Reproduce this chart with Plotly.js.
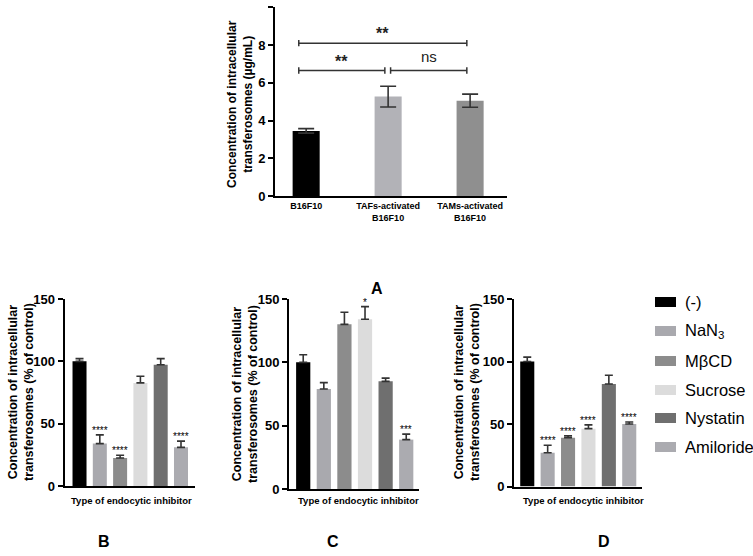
<!DOCTYPE html>
<html><head><meta charset="utf-8">
<script src="https://cdn.plot.ly/plotly-3.0.1.min.js"></script>
<style>html,body{margin:0;padding:0;background:#fff}</style>
</head><body><div id="chart" style="width:753px;height:556px"></div>
<script>
// ---- Panel A data ----
const cellLines = ['B16F10', 'TAFs-activated<br>B16F10', 'TAMs-activated<br>B16F10'];
const cellMeans = [3.45, 5.27, 5.05];
const cellErr = [0.12, 0.55, 0.35];
const cellColors = ['#000000', '#b2b2b7', '#8f8f8f'];
const comparisons = [
  {a: 0, b: 2, y: 8.1, label: '**'},
  {a: 0, b: 1, y: 6.65, label: '**'},
  {a: 1, b: 2, y: 6.65, label: 'ns'}
];
// ---- Panels B, C, D data ----
const inhibitors = ['(-)', 'NaN3', 'MβCD', 'Sucrose', 'Nystatin', 'Amiloride'];
const inhibitorLabels = ['(-)', 'NaN<sub>3</sub>', 'MβCD', 'Sucrose', 'Nystatin', 'Amiloride'];
const inhibitorColors = ['#000000', '#a9a9ae', '#8c8c8c', '#dcdcdc', '#6f6f6f', '#ababb0'];
const panelB = [100, 34, 22.4, 82.7, 97.2, 31];
const panelBErr = [2.2, 7, 2.3, 5.3, 5, 5];
const panelBSig = ['', '****', '****', '', '', '****'];
const panelC = [100, 79, 130, 134, 85, 39];
const panelCErr = [6, 5, 9.5, 10, 2.5, 4.3];
const panelCSig = ['', '', '', '*', '', '***'];
const panelD = [100, 27, 39, 46.3, 82, 50];
const panelDErr = [3.5, 6, 1.5, 3, 7, 1.6];
const panelDSig = ['', '****', '****', '****', '', '****'];
const xTitle = 'Type of endocytic inhibitor';
const yTitleA = 'Concentration of intracellular<br>transferosomes (µg/mL)';
const yTitleB = 'Concentration of intracellular<br>transferosomes (% of control)';

const W = 753, H = 556;
const px = v => v / W;
const py = v => 1 - v / H;
const FONT = 'Liberation Sans, Arial, Helvetica, sans-serif';

const traces = [];
traces.push({
  type: 'bar', x: cellLines, y: cellMeans, xaxis: 'x', yaxis: 'y', width: 0.33,
  marker: {color: cellColors, line: {width: 0}},
  error_y: {type: 'data', array: cellErr, visible: true, thickness: 1.6, width: 8, color: '#333'}
});
const panels = [
  {vals: panelB, err: panelBErr, sig: panelBSig, xa: 'x2', ya: 'y2'},
  {vals: panelC, err: panelCErr, sig: panelCSig, xa: 'x3', ya: 'y3'},
  {vals: panelD, err: panelDErr, sig: panelDSig, xa: 'x4', ya: 'y4'}
];
panels.forEach(p => {
  traces.push({
    type: 'bar', x: inhibitors, y: p.vals, xaxis: p.xa, yaxis: p.ya, width: 0.69,
    marker: {color: inhibitorColors, line: {width: 0}},
    error_y: {type: 'data', symmetric: false, array: p.err, arrayminus: p.err.map(() => 0),
              visible: true, thickness: 1.6, width: 4, color: '#333'}
  });
});

const baseY = {
  showline: true, linewidth: 2, linecolor: '#000', ticks: 'outside', ticklen: 5, tickwidth: 2,
  tickcolor: '#000', showgrid: false, zeroline: false,
  tickfont: {family: FONT, size: 13, color: '#000', weight: 700}
};
const baseX = {
  type: 'category', showline: true, linewidth: 2, linecolor: '#000', ticks: '',
  showgrid: false, zeroline: false, showticklabels: false
};

const layout = {
  width: W, height: H, margin: {l: 0, r: 0, t: 0, b: 0},
  paper_bgcolor: '#fff', plot_bgcolor: '#fff', showlegend: false,
  font: {family: FONT, color: '#000'},
  xaxis: Object.assign({}, baseX, {domain: [px(275), px(507)], range: [-0.38, 2.45], anchor: 'y',
    showticklabels: true, tickfont: {family: FONT, size: 9, color: '#000', weight: 700}}),
  yaxis: Object.assign({}, baseY, {domain: [py(196), py(7.3)], range: [0, 10], dtick: 2, anchor: 'x'}),
  xaxis2: Object.assign({}, baseX, {domain: [px(64.5), px(195)], range: [-0.74, 5.69], anchor: 'y2'}),
  yaxis2: Object.assign({}, baseY, {domain: [py(486), py(299)], range: [0, 150], dtick: 50, anchor: 'x2'}),
  xaxis3: Object.assign({}, baseX, {domain: [px(289), px(419)], range: [-0.69, 5.62], anchor: 'y3'}),
  yaxis3: Object.assign({}, baseY, {domain: [py(489), py(299)], range: [0, 150], dtick: 50, anchor: 'x3'}),
  xaxis4: Object.assign({}, baseX, {domain: [px(514), px(642.3)], range: [-0.65, 5.64], anchor: 'y4'}),
  yaxis4: Object.assign({}, baseY, {domain: [py(486.5), py(299)], range: [0, 150], dtick: 50, anchor: 'x4'}),
  shapes: [], annotations: []
};

// significance brackets for panel A
const capH = 0.17;
comparisons.forEach(c => {
  const x0 = c.a + (c.a === 0 ? -0.09 : 0.03);
  const x1 = c.b - 0.04;
  const line = {color: '#333', width: 1.5};
  layout.shapes.push({type: 'line', xref: 'x', yref: 'y', x0: x0, x1: x1, y0: c.y, y1: c.y, line: line});
  layout.shapes.push({type: 'line', xref: 'x', yref: 'y', x0: x0, x1: x0, y0: c.y - capH, y1: c.y + capH, line: line});
  layout.shapes.push({type: 'line', xref: 'x', yref: 'y', x0: x1, x1: x1, y0: c.y - capH, y1: c.y + capH, line: line});
  const isNs = c.label === 'ns';
  layout.annotations.push({xref: 'x', yref: 'y', x: (x0 + x1) / 2, y: c.y, yanchor: 'bottom',
    yshift: isNs ? 4 : -1, showarrow: false, text: c.label,
    font: {family: FONT, size: isNs ? 15 : 16, color: '#222', weight: isNs ? 400 : 700}});
});

// significance stars for B, C, D
panels.forEach(p => {
  p.sig.forEach((s, i) => {
    if (!s) return;
    layout.annotations.push({xref: p.xa, yref: p.ya, x: inhibitors[i], y: p.vals[i] + p.err[i],
      yanchor: 'bottom', yshift: -3, showarrow: false, text: s,
      font: {family: FONT, size: 10, color: '#000'}});
  });
});

// axis titles
const yTitles = [
  {text: yTitleA, x: 240, y: 104, size: 12},
  {text: yTitleB, x: 21, y: 392, size: 12.5},
  {text: yTitleB, x: 245, y: 394, size: 12.5},
  {text: yTitleB, x: 467, y: 392, size: 12.5}
];
yTitles.forEach(t => layout.annotations.push({xref: 'paper', yref: 'paper', x: px(t.x), y: py(t.y),
  textangle: -90, showarrow: false, text: t.text, xanchor: 'center', yanchor: 'middle',
  font: {family: FONT, size: t.size, color: '#000', weight: 700}}));
[131, 358, 583].forEach(cx => layout.annotations.push({xref: 'paper', yref: 'paper', x: px(cx), y: py(500),
  showarrow: false, text: xTitle, xanchor: 'center', yanchor: 'middle',
  font: {family: FONT, size: 9.5, color: '#000', weight: 700}}));

// panel letters
[['A', 377, 288], ['B', 104, 541], ['C', 333, 541], ['D', 604, 541]].forEach(l =>
  layout.annotations.push({xref: 'paper', yref: 'paper', x: px(l[1]), y: py(l[2]), showarrow: false,
    text: l[0], xanchor: 'center', yanchor: 'middle', font: {family: FONT, size: 16, color: '#000', weight: 700}}));

// legend
const legendRows = [302, 331, 361, 390, 418, 447];
inhibitorLabels.forEach((lab, i) => {
  layout.shapes.push({type: 'rect', xref: 'paper', yref: 'paper', x0: px(655), x1: px(676),
    y0: py(legendRows[i] + 5), y1: py(legendRows[i] - 5), fillcolor: inhibitorColors[i], line: {width: 0}});
  layout.annotations.push({xref: 'paper', yref: 'paper', x: px(683), y: py(legendRows[i]), xanchor: 'left',
    yanchor: 'middle', showarrow: false, text: lab, font: {family: FONT, size: 16.5, color: '#000'}});
});

Plotly.newPlot('chart', traces, layout, {displayModeBar: false, staticPlot: true});
</script></body></html>
